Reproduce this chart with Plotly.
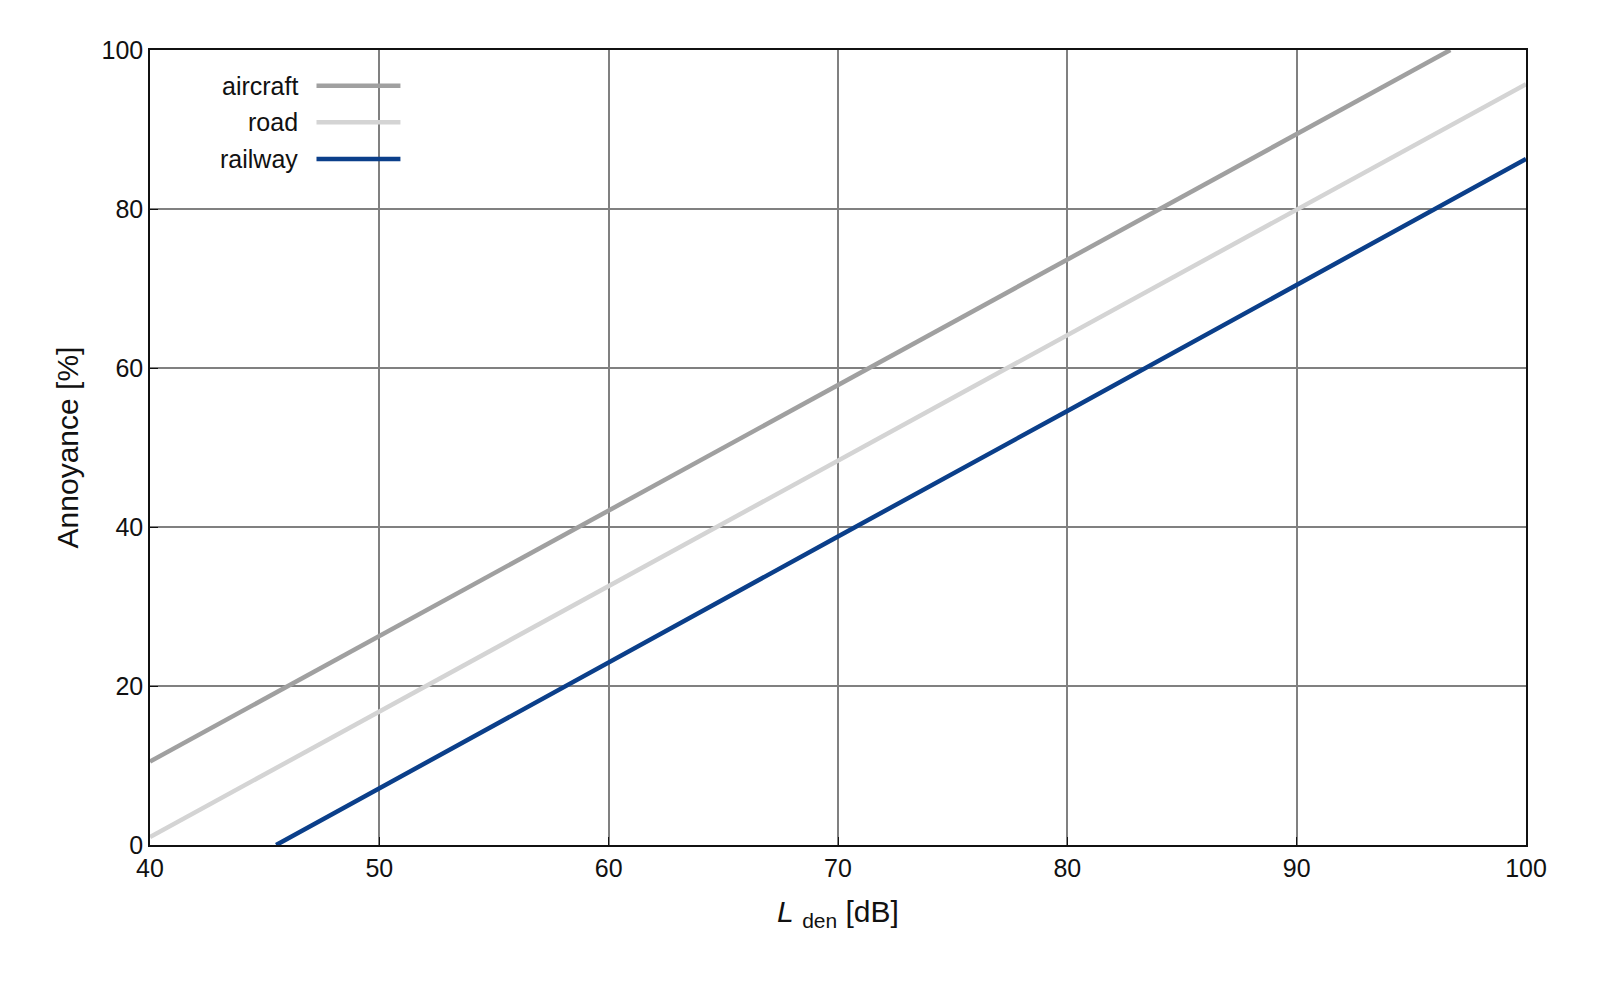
import plotly.graph_objects as go

aircraft_x = [40, 50, 60, 70, 80, 90, 96.7]
aircraft_y = [10.5, 26.3, 42.1, 57.9, 73.6, 89.4, 100]
road_x = [40, 50, 60, 70, 80, 90, 100]
road_y = [1.0, 16.8, 32.6, 48.4, 64.2, 80.0, 95.7]
rail_x = [45.5, 50, 60, 70, 80, 90, 100]
rail_y = [0.0, 7.1, 22.9, 38.8, 54.6, 70.4, 86.3]
names = ["aircraft", "road", "railway"]
colors = ["#a0a0a0", "#d4d4d4", "#0b3f8a"]

fig = go.Figure()
for n, c, xs, ys in zip(names, colors, [aircraft_x, road_x, rail_x], [aircraft_y, road_y, rail_y]):
    fig.add_trace(go.Scatter(x=xs, y=ys, mode="lines", name=n, line=dict(color=c, width=4.5), showlegend=False))

fig.add_shape(type="rect", xref="paper", yref="paper", x0=0.03, x1=0.19, y0=0.84, y1=0.995,
              fillcolor="white", line_width=0, layer="below")
for i, (n, c) in enumerate(zip(names, colors)):
    yy = 0.955 - i * 0.046
    fig.add_annotation(xref="paper", yref="paper", x=0.109, y=yy, text=n, showarrow=False,
                       xanchor="right", yanchor="middle", font=dict(size=25, color="#111"))
    fig.add_shape(type="line", xref="paper", yref="paper", x0=0.121, x1=0.182, y0=yy, y1=yy,
                  line=dict(color=c, width=4.5))

axis = dict(showgrid=True, gridcolor="#808080", gridwidth=1.5, showline=True, linecolor="#111",
            linewidth=1.5, mirror=True, zeroline=False, ticks="inside", ticklen=8, tickcolor="#111",
            tickfont=dict(size=25, color="#111"))
fig.update_xaxes(range=[40, 100], dtick=10,
                 title=dict(text="<i>L</i> <sub>den</sub> [dB]", font=dict(size=30, color="#111"), standoff=20), **axis)
fig.update_yaxes(range=[0, 100], dtick=20,
                 title=dict(text="Annoyance [%]", font=dict(size=30, color="#111"), standoff=14), **axis)
fig.update_layout(width=1600, height=987, margin=dict(l=142, r=82, t=42, b=150),
                  plot_bgcolor="white", paper_bgcolor="white",
                  font=dict(family="Liberation Sans, Arial, sans-serif"))
fig.write_html("out.html")
